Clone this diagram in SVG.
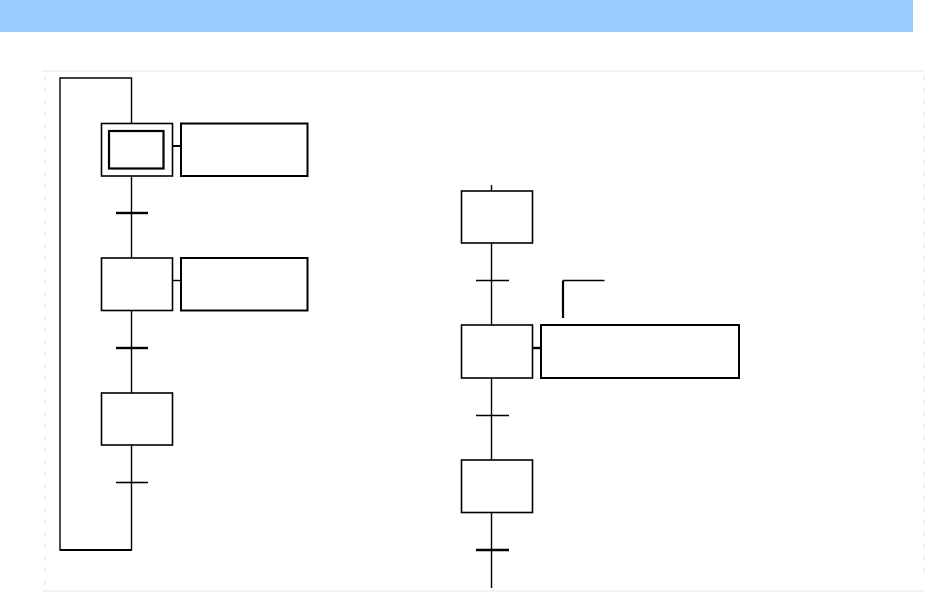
<svg xmlns="http://www.w3.org/2000/svg" width="930" height="598" viewBox="0 0 930 598">
<style>
.step{fill:#fff;stroke:#000;stroke-width:1.6}
.inner{fill:none;stroke:#000;stroke-width:2.2}
.act{fill:#fff;stroke:#000;stroke-width:2}
.ln{fill:none;stroke:#000;stroke-width:1.4}
.tr{stroke:#000;stroke-width:1.6}
.trb{stroke:#000;stroke-width:2.4}
.frame{stroke:#f2f2f2;stroke-width:2;fill:none}
</style>
<rect x="0" y="0" width="930" height="598" fill="#fff"/>
<rect x="0" y="0" width="913" height="32" fill="#99ccff"/>
<g id="frame">
<line class="frame" x1="42" y1="71" x2="925" y2="71"/>
<line class="frame" x1="42" y1="591" x2="925" y2="591"/>
<line x1="45" y1="76" x2="45" y2="585" stroke="#ececec" stroke-width="1.5" stroke-dasharray="5,7"/>
<line x1="924" y1="76" x2="924" y2="575" stroke="#ececec" stroke-width="1.5" stroke-dasharray="5,7"/>
</g>
<g id="connectors">
<polyline class="ln" points="131.5,123 131.5,78 60,78 60,550 131.5,550 131.5,445"/>
<line x1="60" y1="550" x2="131.5" y2="550" stroke="#000" stroke-width="2.2"/>
<line class="ln" x1="131.5" y1="176" x2="131.5" y2="258"/>
<line class="ln" x1="131.5" y1="311" x2="131.5" y2="393"/>
<line class="trb" x1="116" y1="213" x2="148" y2="213"/>
<line class="trb" x1="116" y1="348" x2="148" y2="348"/>
<line class="tr" x1="116" y1="482.5" x2="148" y2="482.5"/>
<line x1="172" y1="146" x2="181" y2="146" stroke="#000" stroke-width="2"/>
<line x1="172" y1="280.5" x2="181" y2="280.5" stroke="#000" stroke-width="1.4"/>
<line class="ln" x1="491.5" y1="185" x2="491.5" y2="588"/>
<line class="tr" x1="476" y1="280.5" x2="509" y2="280.5"/>
<line class="tr" x1="476" y1="415.5" x2="509" y2="415.5"/>
<line class="trb" x1="476" y1="550" x2="509" y2="550"/>
<line x1="532" y1="348" x2="541" y2="348" stroke="#000" stroke-width="2.4"/>
<line x1="563" y1="318" x2="563" y2="280.5" stroke="#000" stroke-width="2.2"/>
<line x1="563" y1="280.5" x2="604.5" y2="280.5" stroke="#000" stroke-width="1.4"/>
</g>
<g id="step1">
<rect class="step" x="101.5" y="123.5" width="71" height="52.5"/>
<rect class="inner" x="109" y="131" width="54.5" height="37.5"/>
</g>
<g id="action1"><rect class="act" x="181" y="123.5" width="126.5" height="52.5"/></g>
<g id="step2"><rect class="step" x="101.5" y="258" width="71" height="52.5"/></g>
<g id="action2"><rect class="act" x="181" y="258" width="126.5" height="52.5"/></g>
<g id="step3"><rect class="step" x="101.5" y="393" width="71" height="52"/></g>
<g id="step4"><rect class="step" x="461.5" y="191" width="71" height="52"/></g>
<g id="step5"><rect class="step" x="461.5" y="325" width="71" height="53"/></g>
<g id="action5"><rect class="act" x="541" y="325" width="198" height="53"/></g>
<g id="step6"><rect class="step" x="461.5" y="460" width="71" height="52.5"/></g>
</svg>
